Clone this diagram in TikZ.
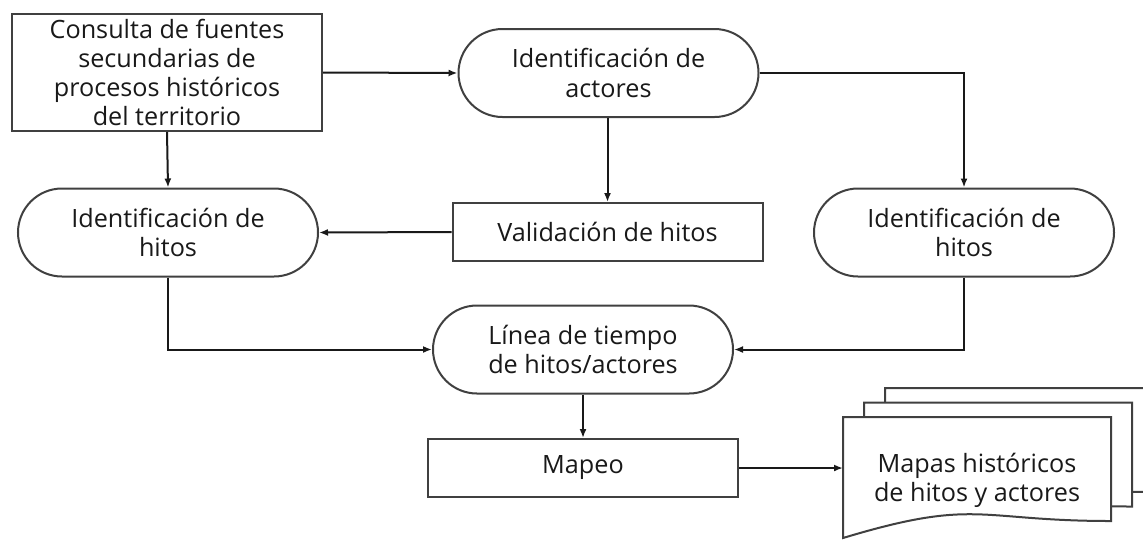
\documentclass[tikz,border=0pt]{standalone}
\usepackage{fontspec}
\setmainfont{Open Sans}
\usetikzlibrary{shapes.misc,arrows.meta,calc}
\tikzset{
  base/.style={draw=black!75, line width=1pt, fill=white, align=center,
    font=\fontsize{12.6}{14.6}\selectfont, text=black!90, inner sep=2pt},
  procbox/.style={base, rectangle, minimum width=155pt},
  termbox/.style={base, rounded rectangle, minimum width=154pt, minimum height=44pt},
  link/.style={line width=1pt, draw=black!90, -{Latex[length=4.5pt,width=3.5pt]}},
  docpage/.style={draw=black!75, line width=1pt, fill=white},
}

\begin{document}
\begin{tikzpicture}[x=0.5pt, y=-0.5pt]
    \useasboundingbox (0,0) rectangle (1143,542);
    \clip (0,0) rectangle (1143,542);

    % process steps
    \node [procbox, minimum height=58.5pt] (src) at (167,72.5)
      {Consulta de fuentes\\secundarias de\\procesos históricos\\del territorio};
    \node [termbox] (act) at (608.5,73) {Identificación de\\actores};
    \node [termbox] (hitL) at (168,232.5) {Identificación de\\hitos};
    \node [procbox, minimum height=29pt] (val) at (607.5,232) {Validación de hitos};
    \node [termbox] (hitR) at (964,232.5) {Identificación de\\hitos};
    \node [termbox] (lin) at (583,349.5) {Línea de tiempo\\de hitos/actores};
    \node [procbox, minimum height=29pt] (map) at (583,468) {Mapeo};

    % stacked output documents
    \foreach \dx/\dy in {42/-29, 21/-14.5, 0/0} {
      \draw [docpage] (843+\dx,417+\dy) -- ++(268,0) -- ++(0,104)
        .. controls ++(-134,0) and ++(134,-40.5) .. ++(-268,17) -- cycle;
    }
    \coordinate (doc) at (843,468);
    \node [font=\fontsize{12.6}{14.6}\selectfont, text=black!90, align=center]
      (docs) at (977,480) {Mapas históricos\\de hitos y actores};

    % connectors
    \draw [link] (src.east) -- (act.west);
    \draw [link] (src.south) -- (hitL.north);
    \draw [link] (act.south -| val.north) -- (val.north);
    \draw [link] (act.east) -| (hitR.north);
    \draw [link] (val.west) -- (hitL.east);
    \draw [link] (hitL.south) |- (lin.west);
    \draw [link] (hitR.south) |- (lin.east);
    \draw [link] (lin.south) -- (map.north);
    \draw [link] (map.east) -- (doc);
\end{tikzpicture}
\end{document}
